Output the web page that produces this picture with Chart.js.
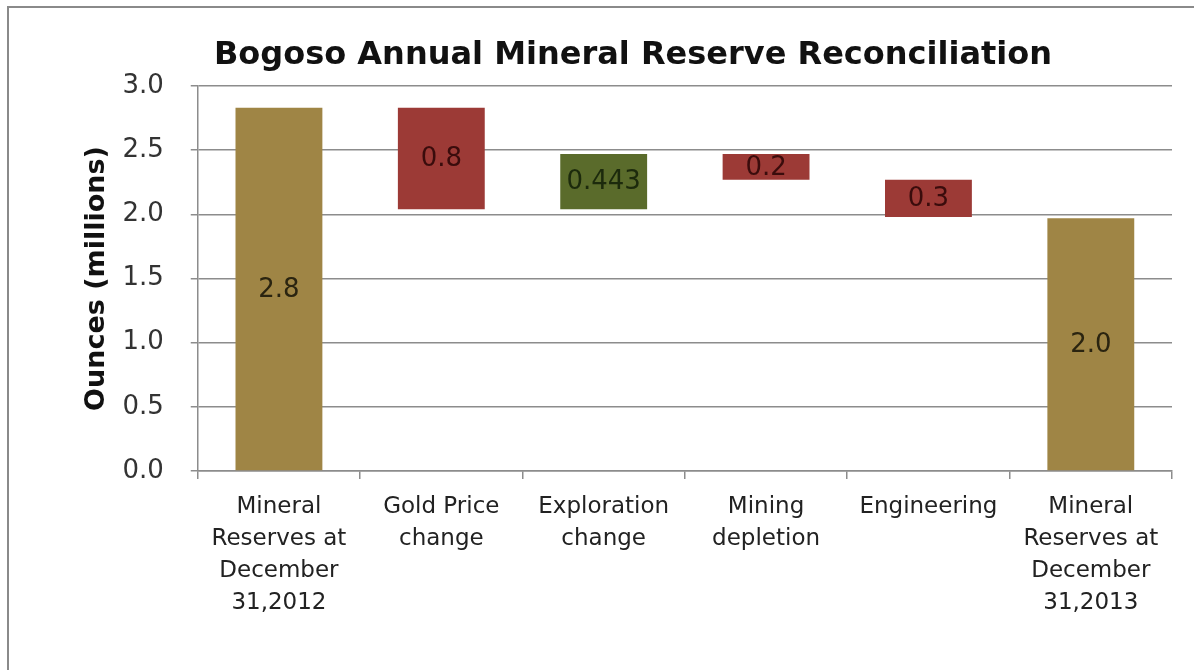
<!DOCTYPE html>
<html>
<head>
<meta charset="utf-8">
<script src="https://cdn.jsdelivr.net/npm/chart.js@4/dist/chart.umd.min.js"></script>
<style>
	body { margin: 0; background: #ffffff; }
	#frame { position: absolute; left: 7px; top: 6px; width: 1400px; height: 900px; border: 2px solid #8a8a8a; }
	#wrap { position: absolute; left: 0; top: 0; width: 1194px; height: 670px; }
</style>
</head>
<body>
<div id="frame"></div>
<div id="wrap"><canvas id="reserveChart" width="1194" height="670"></canvas></div>
<script>
var categories = [
	["Mineral", "Reserves at", "December", "31,2012"],
	["Gold Price", "change"],
	["Exploration", "change"],
	["Mining", "depletion"],
	["Engineering"],
	["Mineral", "Reserves at", "December", "31,2013"]
];
var barStart = [0, 2.04, 2.04, 2.27, 1.98, 0];
var barEnd = [2.83, 2.83, 2.47, 2.47, 2.27, 1.97];
var valueLabels = ["2.8", "0.8", "0.443", "0.2", "0.3", "2.0"];
var barKind = ["total", "down", "up", "down", "down", "total"];

var color = {
	total: "#9f8545",
	down: "#9c3a36",
	up: "#5a6b2b",
	grid: "#8c8c8c"
};
var labelColor = {
	total: "#2a2410",
	down: "#3a0c0c",
	up: "#1c2a0c"
};

var ranges = [];
for (var i = 0; i < categories.length; i++) {
	ranges.push([barStart[i], barEnd[i]]);
}

// write the value in the middle of each bar
var barValuePlugin = {
	id: "barValues",
	afterDatasetsDraw: function (chart) {
		var ctx = chart.ctx;
		var meta = chart.getDatasetMeta(0);
		ctx.save();
		ctx.font = "26px 'DejaVu Sans'";
		ctx.textAlign = "center";
		ctx.textBaseline = "middle";
		meta.data.forEach(function (bar, idx) {
			ctx.fillStyle = labelColor[barKind[idx]];
			ctx.fillText(valueLabels[idx], bar.x, (bar.y + bar.base) / 2 + 1);
		});
		ctx.restore();
	}
};

var chart = new Chart(document.getElementById("reserveChart"), {
	type: "bar",
	data: {
		labels: categories,
		datasets: [
			{
				data: ranges,
				backgroundColor: barKind.map(function (k) { return color[k]; }),
				borderWidth: 0,
				barPercentage: 0.535,
				categoryPercentage: 1
			}
		]
	},
	options: {
		responsive: false,
		animation: false,
		layout: { padding: { left: 94, right: 22, top: 36, bottom: 39 } },
		plugins: {
			legend: { display: false },
			tooltip: { enabled: false },
			title: {
				display: true,
				text: "Bogoso Annual Mineral Reserve Reconciliation",
				color: "#111111",
				font: { family: "'DejaVu Sans'", size: 32, weight: "bold" },
				padding: { top: 0, bottom: 11.6 }
			}
		},
		scales: {
			x: {
				grid: {
					drawOnChartArea: false,
					drawTicks: true,
					tickLength: 8,
					color: color.grid,
					lineWidth: 1.5
				},
				border: { color: color.grid, width: 1.5 },
				ticks: {
					color: "#222222",
					padding: 12,
					maxRotation: 0,
					autoSkip: false,
					font: { family: "'DejaVu Sans'", size: 23, lineHeight: "32px" }
				}
			},
			y: {
				min: 0,
				max: 3,
				grid: {
					color: color.grid,
					lineWidth: 1.5,
					tickLength: 7
				},
				border: { color: color.grid, width: 1.5 },
				ticks: {
					stepSize: 0.5,
					padding: 27,
					color: "#333333",
					font: { family: "'DejaVu Sans'", size: 26 },
					callback: function (v) { return v.toFixed(1); }
				},
				title: {
					display: true,
					text: "Ounces (millions)",
					color: "#111111",
					font: { family: "'DejaVu Sans'", size: 27, weight: "bold" },
					padding: { top: -13, bottom: -18 }
				}
			}
		}
	},
	plugins: [barValuePlugin]
});
</script>
</body>
</html>
